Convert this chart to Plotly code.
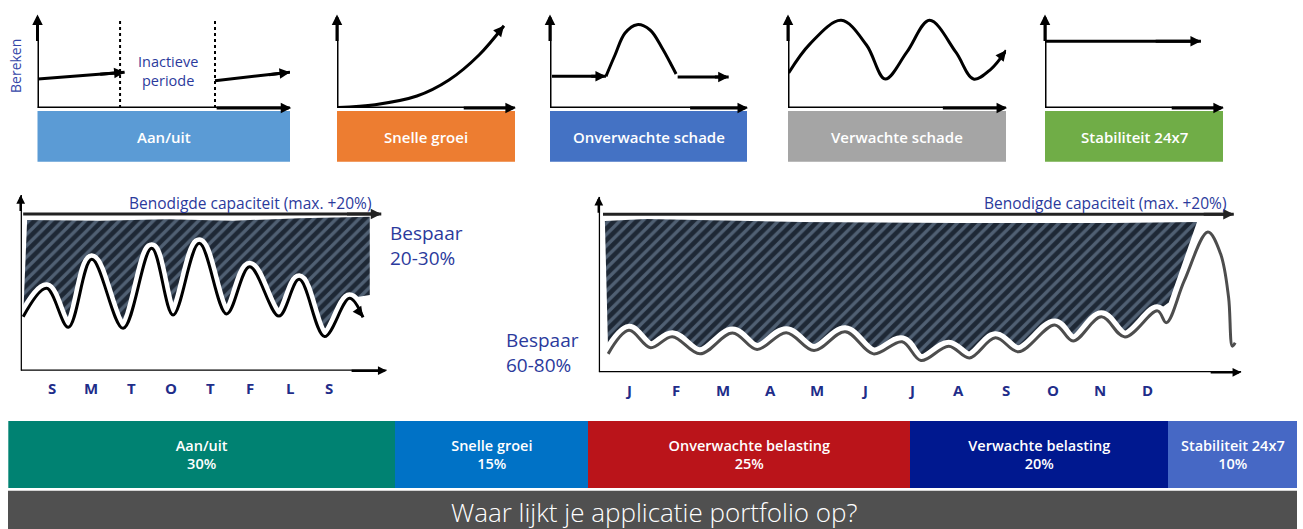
import plotly.graph_objects as go

# ---------------- data ----------------
top_labels = ["Aan/uit", "Snelle groei", "Onverwachte schade", "Verwachte schade", "Stabiliteit 24x7"]
y_label = "Bereken"
gap_label = "Inactieve<br>periode"

# panel 1 (aan/uit) - units 0..10
p1_on1_x = [0.02, 3.45]
p1_on1_y = [3.22, 3.97]
p1_gap_x = [3.27, 7.03]
p1_gap_top = 9.9
p1_on2_x = [7.03, 10.0]
p1_on2_y = [3.03, 3.97]
# panel 2 (snelle groei)
p2_x = [0.06, 2.14, 4.49, 6.29, 7.98, 9.38]
p2_y = [0.06, 0.37, 1.33, 3.11, 5.89, 9.14]
# panel 3 (onverwachte schade)
p3_base1_x = [0.10, 2.84]
p3_base1_y = [3.52, 3.52]
p3_bump_x = [2.84, 3.30, 3.81, 4.42, 5.08, 5.69, 6.19, 6.40]
p3_bump_y = [3.52, 5.89, 8.33, 9.26, 8.67, 6.67, 4.67, 3.78]
p3_base2_x = [6.48, 9.07]
p3_base2_y = [3.44, 3.44]
# panel 4 (verwachte schade)
p4_x = [0.03, 1.0, 2.44, 3.6, 4.46, 5.45, 6.49, 7.7, 8.51, 9.3, 10.01]
p4_y = [3.89, 7.1, 9.74, 7.0, 3.22, 6.2, 9.74, 6.2, 3.22, 4.3, 6.41]
# panel 5 (stabiliteit)
p5_x = [0.0, 8.76]
p5_y = [7.41, 7.41]

# week chart
days = ["S", "M", "T", "O", "T", "F", "L", "S"]
week_x = [-0.72, -0.13, 0.42, 1.01, 1.80, 2.52, 3.06, 3.72, 4.41, 4.99, 5.73, 6.24, 6.88, 7.51, 7.85]
week_load = [30.7, 46.9, 24.7, 63.4, 24.1, 69.7, 31.7, 72.5, 32.3, 59.2, 31.1, 52.0, 19.4, 41.2, 30.4]
week_cap_x = [-0.62, 1.22, 2.90, 4.57, 6.25, 8.02, 8.02]
week_cap_y = [85.8, 85.4, 86.2, 85.4, 86.7, 87.6, 43.1]
week_need = 89.2
week_save = "Bespaar<br>20-30%"

# year chart
months = ["J", "F", "M", "A", "M", "J", "J", "A", "S", "O", "N", "D"]
year_x = [-0.44, 0.00, 0.46, 0.92, 1.51, 2.20, 2.72, 3.34, 3.93, 4.59, 5.19, 5.80, 6.20, 6.79,
          7.23, 7.78, 8.27, 9.04, 9.43, 10.03, 10.53, 11.22, 11.41, 11.79, 12.29, 12.56, 12.73,
          12.81, 12.87]
year_load = [10.5, 23.9, 14.0, 20.3, 10.5, 22.4, 13.0, 22.6, 12.4, 23.1, 10.5, 17.4, 6.7, 14.9,
             8.2, 19.7, 11.7, 27.0, 17.8, 31.6, 20.1, 35.0, 28.3, 52.2, 79.9, 67.5, 42.7, 14.9, 16.8]
year_cap_x = [-0.51, 0.37, 3.65, 6.94, 10.26, 12.06, 11.46]
year_cap_y = [86.2, 87.4, 85.6, 85.0, 85.0, 85.6, 39.8]
year_need = 90.1
year_save = "Bespaar<br>60-80%"
need_label = "Benodigde capaciteit (max. +20%)"

# portfolio mix
mix_labels = ["Aan/uit", "Snelle groei", "Onverwachte belasting", "Verwachte belasting", "Stabiliteit 24x7"]
mix_pct = [30, 15, 25, 20, 10]
footer = "Waar lijkt je applicatie portfolio op?"

# ---------------- style ----------------
W, H = 1303, 529
FONT = "Open Sans"
TXT_BLUE = "#2B3A9C"
LBL_BLUE = "#1F2D8A"
top_colors = ["#5B9BD5", "#ED7D31", "#4472C4", "#A5A5A5", "#70AD47"]
mix_colors = ["#008272", "#0072C6", "#BA141A", "#00188F", "#4668C5"]
HATCH_BG = "#1E2835"
HATCH_FG = "#8198B2"


def dxp(a, b):
    return [a / W, b / W]


def dyp(top, bottom):
    return [1 - bottom / H, 1 - top / H]


def refs(i):
    s = "" if i == 1 else str(i)
    return "x" + s, "y" + s


fig = go.Figure()
annotations = []
shapes = []


def add_axes(i, xd, yd, xr, yr):
    s = "" if i == 1 else str(i)
    fig.update_layout(**{
        f"xaxis{s}": dict(domain=xd, range=xr, visible=False, fixedrange=True, anchor=f"y{s}"),
        f"yaxis{s}": dict(domain=yd, range=yr, visible=False, fixedrange=True, anchor=f"x{s}"),
    })


def head(i, x, y, color, width, size, frac):
    xr, yr = refs(i)
    x1, y1 = x[-1], y[-1]
    x0 = x1 - frac * (x[-1] - x[-2])
    y0 = y1 - frac * (y[-1] - y[-2])
    annotations.append(dict(x=x1, y=y1, ax=x0, ay=y0, xref=xr, yref=yr, axref=xr, ayref=yr,
                            showarrow=True, arrowhead=2, arrowsize=size, arrowwidth=width,
                            arrowcolor=color, standoff=0, text=""))


def line(i, x, y, color="black", width=3, shape="linear", arrow=True, dash=None,
         asize=0.7, frac=0.3):
    xr, yr = refs(i)
    fig.add_trace(go.Scatter(x=x, y=y, xaxis=xr, yaxis=yr, mode="lines",
                             line=dict(color=color, width=width, shape=shape, dash=dash),
                             cliponaxis=False, hoverinfo="skip", showlegend=False))
    if arrow:
        head(i, x, y, color, width, asize, frac)


# ---------------- top mini panels ----------------
box_px = [(37.5, 290), (337, 515), (550, 747), (788, 1006), (1045, 1223)]
for k, (a, b) in enumerate(box_px):
    i = k + 1
    add_axes(i, dxp(a, b), dyp(18, 108), [0, 10], [0, 10])
    xr, yr = refs(i)
    line(i, [0, 0], [0, 10.4], width=3)
    line(i, [0, 10.05], [0, 0], width=3)
    shapes.append(dict(type="rect", xref=f"{xr} domain", yref="paper", x0=0, x1=1,
                       y0=1 - 161.7 / H, y1=1 - 111 / H, fillcolor=top_colors[k],
                       line=dict(width=0), layer="below"))
    annotations.append(dict(xref=f"{xr} domain", yref="paper", x=0.5, y=1 - 136.5 / H,
                            xanchor="center", yanchor="middle",
                            text=top_labels[k], showarrow=False,
                            font=dict(family=FONT, size=15, color="white", weight=600)))

# panel 1
line(1, p1_on1_x, p1_on1_y)
line(1, p1_on2_x, p1_on2_y)
for gx in p1_gap_x:
    line(1, [gx, gx], [0, p1_gap_top], width=2, dash="dot", arrow=False)
annotations.append(dict(xref="x", yref="y", x=sum(p1_gap_x) / 2, y=4.1, text=gap_label,
                        xanchor="center", yanchor="middle",
                        showarrow=False, font=dict(family=FONT, size=14.5, color=TXT_BLUE)))
annotations.append(dict(xref="paper", yref="paper", x=16 / W, y=1 - 66 / H, text=y_label,
                        textangle=-90, showarrow=False, xanchor="center", yanchor="middle",
                        font=dict(family=FONT, size=14, color="#3446A8")))
# panel 2
line(2, p2_x, p2_y, shape="spline", frac=0.15)
# panel 3
line(3, p3_base1_x, p3_base1_y)
line(3, p3_bump_x, p3_bump_y, shape="spline", frac=0.3)
line(3, p3_base2_x, p3_base2_y)
# panel 4
line(4, p4_x, p4_y, shape="spline", frac=0.2)
# panel 5
line(5, p5_x, p5_y)

# ---------------- week chart ----------------
wxr = [-0.782, 8.447]
add_axes(6, dxp(20.7, 386.7), dyp(195, 370.7), wxr, [0, 100])
fig.add_trace(go.Scatter(x=week_cap_x, y=week_cap_y, xaxis="x6", yaxis="y6", mode="lines",
                         line=dict(width=0), hoverinfo="skip", showlegend=False))
fig.add_trace(go.Scatter(x=week_x[:-1], y=week_load[:-1], xaxis="x6", yaxis="y6", mode="lines",
                         line=dict(width=0, shape="spline"), fill="tonexty", fillcolor=HATCH_BG,
                         fillpattern=dict(shape="/", bgcolor=HATCH_BG, fgcolor=HATCH_FG, size=8,
                                          solidity=0.42),
                         hoverinfo="skip", showlegend=False))
line(6, week_x, week_load, color="white", width=12, shape="spline", arrow=False)
line(6, week_x, week_load, color="black", width=3, shape="spline", frac=0.2)
line(6, [wxr[0], wxr[0]], [0, 100], width=2.5, frac=0.1)
line(6, [wxr[0], wxr[1]], [0, 0], width=2.5, frac=0.1)
line(6, [-0.72, 8.31], [week_need, week_need], color="#222222", width=3, frac=0.1)
annotations.append(dict(xref="x6", yref="y6", x=5.0, y=95.6, text=need_label, showarrow=False,
                        xanchor="center", yanchor="middle",
                        font=dict(family=FONT, size=15.5, color=TXT_BLUE)))
for d, lab in enumerate(days):
    annotations.append(dict(xref="x6", yref="y6", x=d, y=0, yshift=-17.6, text=lab,
                            showarrow=False, yanchor="middle",
                            font=dict(family=FONT, size=15, color=LBL_BLUE, weight="bold")))
annotations.append(dict(xref="paper", yref="paper", x=388 / W, y=1 - 245 / H, text=week_save,
                        showarrow=False, xanchor="left", yanchor="middle", align="left",
                        font=dict(family=FONT, size=19, color=TXT_BLUE)))

# ---------------- year chart ----------------
yxr = [-0.639, 13.0]
add_axes(7, dxp(598.8, 1241.3), dyp(196.8, 372.3), yxr, [0, 100])
fig.add_trace(go.Scatter(x=year_cap_x, y=year_cap_y, xaxis="x7", yaxis="y7", mode="lines",
                         line=dict(width=0), hoverinfo="skip", showlegend=False))
fig.add_trace(go.Scatter(x=year_x[:22], y=year_load[:22], xaxis="x7", yaxis="y7", mode="lines",
                         line=dict(width=0, shape="spline"), fill="tonexty", fillcolor=HATCH_BG,
                         fillpattern=dict(shape="/", bgcolor=HATCH_BG, fgcolor=HATCH_FG, size=8,
                                          solidity=0.42),
                         hoverinfo="skip", showlegend=False))
line(7, year_x, year_load, color="white", width=13, shape="spline", arrow=False)
line(7, year_x, year_load, color="#4D4D4D", width=3, shape="spline", arrow=False)
line(7, [yxr[0], yxr[0]], [0, 100], width=2.5, frac=0.1)
line(7, [yxr[0], yxr[1]], [0, 0], width=2.5, frac=0.05)
line(7, [-0.55, 12.84], [year_need, year_need], color="#222222", width=3, frac=0.05)
annotations.append(dict(xref="x7", yref="y7", x=12.72, y=96.4, text=need_label, showarrow=False,
                        xanchor="right", yanchor="middle",
                        font=dict(family=FONT, size=15.5, color=TXT_BLUE)))
for m, lab in enumerate(months):
    annotations.append(dict(xref="x7", yref="y7", x=m, y=0, yshift=-17.4, text=lab,
                            showarrow=False, yanchor="middle",
                            font=dict(family=FONT, size=15, color=LBL_BLUE, weight="bold")))
annotations.append(dict(xref="paper", yref="paper", x=504 / W, y=1 - 352 / H, text=year_save,
                        showarrow=False, xanchor="left", yanchor="middle", align="left",
                        font=dict(family=FONT, size=19, color=TXT_BLUE)))

# ---------------- portfolio mix bar ----------------
add_axes(8, dxp(8.3, 1297), dyp(421, 488), [0, sum(mix_pct)], [-0.5, 0.5])
for lab, pct, col in zip(mix_labels, mix_pct, mix_colors):
    fig.add_trace(go.Bar(x=[pct], y=[0], orientation="h", xaxis="x8", yaxis="y8", width=1,
                         marker=dict(color=col, line=dict(width=0)),
                         text=f"{lab}<br>{pct}%", textposition="inside",
                         insidetextanchor="middle", textangle=0, constraintext="none",
                         textfont=dict(family=FONT, size=14.5, color="white", weight=600),
                         hoverinfo="skip", showlegend=False))

# footer banner
shapes.append(dict(type="rect", xref="paper", yref="paper", x0=8 / W, x1=1297 / W,
                   y0=0, y1=1 - 490.7 / H, fillcolor="#505050", line=dict(width=0)))
annotations.append(dict(xref="paper", yref="paper", x=654 / W, y=1 - 512 / H, text=footer,
                        xanchor="center", yanchor="middle", showarrow=False,
                        font=dict(family=FONT, size=26, color="white", weight=300)))

fig.update_layout(width=W, height=H, margin=dict(l=0, r=0, t=0, b=0),
                  paper_bgcolor="white", plot_bgcolor="white", showlegend=False,
                  barmode="stack", bargap=0, annotations=annotations, shapes=shapes,
                  font=dict(family=FONT))

fig.write_html("out.html", config={"displayModeBar": False},
               post_script="document.body.style.margin='0';document.body.style.overflow='hidden';")
